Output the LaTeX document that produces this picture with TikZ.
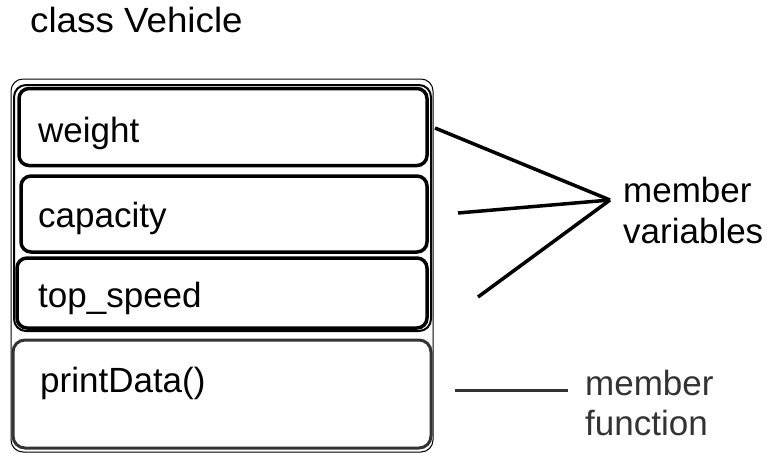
\documentclass[tikz,border=0pt]{standalone}
\usepackage{fontspec}
\setmainfont{Liberation Sans}
\begin{document}
\begin{tikzpicture}[x=1pt,y=-1pt,
  lbl/.style={anchor=base west,inner sep=0pt,font=\fontsize{35}{40}\selectfont},
  varbox/.style={draw=black,line width=3.5pt,rounded corners=10pt,minimum width=#1,inner sep=0pt},
  outerbox/.style={draw=black,line width=1pt,rounded corners=12pt},
  connector/.style={line width=3.5pt,black},
  grayline/.style={line width=3pt,black!80}]
\useasboundingbox (0,0) rectangle (767,452);
% outer class box
\draw[outerbox] (11,79) rectangle (433,452);
% group around variables
\draw[black,line width=2pt,rounded corners=12pt] (14,85) rectangle (431,331);
% variable boxes
\node[varbox=408pt,minimum height=77pt] (wbox) at (223,127) {};
\node[varbox=406pt,minimum height=76pt] (cbox) at (224,214) {};
\node[varbox=410pt,minimum height=70pt] (tbox) at (222,293) {};
% function box
\node[draw=black!80,line width=3pt,rounded corners=12pt,minimum width=418pt,minimum height=108pt,inner sep=0pt] (fbox) at (222,394) {};
% texts
\node[lbl] (title) at (30,33) {\scalebox{1.05}[1]{class Vehicle}};
\node[lbl] (wt) at (38,142) {weight};
\node[lbl] (ct) at (38,227) {capacity};
\node[lbl] (tt) at (38,307) {top\_speed};
\node[lbl] (pt) at (40,392) {printData()};
\node[lbl] (mv1) at (623,202) {member};
\node[lbl] (mv2) at (623,243) {variables};
\node[lbl,text=black!80] (mf1) at (585,395) {member};
\node[lbl,text=black!80] (mf2) at (585,435) {function};
% connectors
\coordinate (hub) at (610,200);
\coordinate (e1) at (435,128);
\coordinate (e2) at (458,213);
\coordinate (e3) at (478,297);
\draw[connector] (e1) -- (hub);
\draw[connector] (e2) -- (hub);
\draw[connector] (e3) -- (hub);
\coordinate (f1) at (455,390);
\coordinate (f2) at (568,390);
\draw[grayline] (f1) -- (f2);
\end{tikzpicture}
\end{document}
